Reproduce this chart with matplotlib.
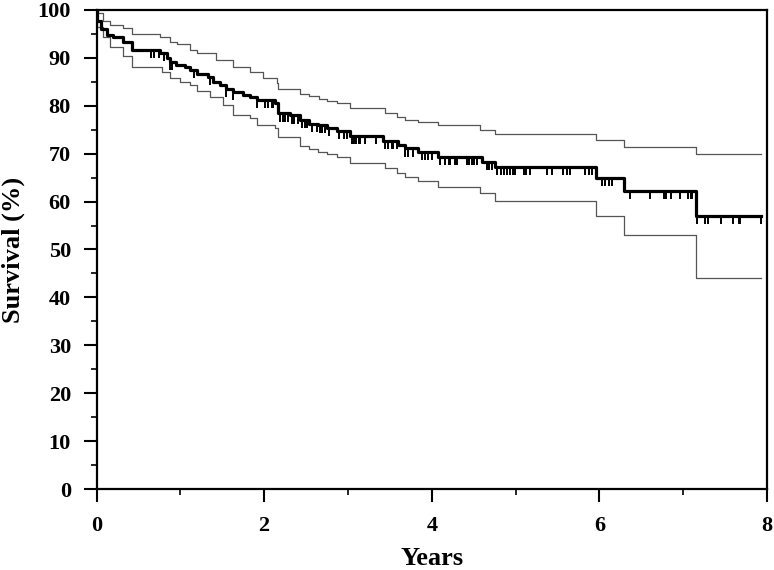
import numpy as np
import matplotlib
matplotlib.use('Agg')
import matplotlib.pyplot as plt
from matplotlib.ticker import MultipleLocator

# Kaplan-Meier estimate (time in years, survival % after each step)
km_t = [0.0, 0.01, 0.05, 0.12, 0.20, 0.32, 0.42, 0.76, 0.84, 0.88, 0.95, 1.05,
        1.12, 1.20, 1.33, 1.39, 1.47, 1.55, 1.63, 1.75, 1.83, 1.91, 2.13, 2.17,
        2.31, 2.43, 2.53, 2.64, 2.75, 2.87, 3.02, 3.42, 3.60, 3.68, 3.84, 4.08,
        4.60, 4.76, 5.96, 6.29, 7.15, 7.93]
km_s = [100.0, 97.6, 96.0, 94.8, 94.3, 93.4, 91.6, 91.0, 90.0, 89.2, 88.6, 88.0,
        87.4, 86.6, 86.0, 85.0, 84.3, 83.6, 82.9, 82.3, 81.9, 81.2, 80.5, 78.4,
        78.0, 77.0, 76.3, 76.0, 75.3, 74.8, 73.7, 72.6, 71.8, 71.1, 70.4, 69.4,
        68.3, 67.2, 64.9, 62.2, 57.0, 57.0]

# upper 95% confidence limit
up_t = [0.0, 0.02, 0.08, 0.16, 0.32, 0.42, 0.76, 0.88, 0.96, 1.12, 1.20, 1.43,
        1.63, 1.83, 1.99, 2.15, 2.17, 2.43, 2.53, 2.65, 2.75, 2.87, 3.02, 3.44,
        3.58, 3.68, 3.84, 4.08, 4.58, 4.76, 5.96, 6.29, 7.15, 7.93]
up_s = [100.0, 99.3, 97.6, 96.9, 96.2, 94.9, 94.4, 93.4, 92.9, 91.6, 91.0, 89.6,
        88.2, 87.1, 85.7, 84.7, 83.5, 82.4, 82.0, 81.4, 80.9, 80.5, 79.5, 78.4,
        77.7, 77.0, 76.6, 76.0, 74.9, 74.1, 72.8, 71.3, 69.9, 69.9]

# lower 95% confidence limit
lo_t = [0.0, 0.01, 0.08, 0.16, 0.32, 0.42, 0.78, 0.88, 1.00, 1.12, 1.20, 1.35,
        1.51, 1.63, 1.83, 1.91, 2.13, 2.17, 2.43, 2.53, 2.64, 2.75, 2.87, 3.02,
        3.44, 3.58, 3.68, 3.84, 4.08, 4.58, 4.76, 5.96, 6.29, 7.15, 7.93]
lo_s = [100.0, 96.5, 94.4, 92.3, 90.3, 88.2, 87.1, 85.7, 85.0, 84.3, 83.1, 81.9,
        80.2, 78.1, 77.4, 76.0, 75.3, 73.5, 71.6, 70.9, 70.4, 69.9, 69.4, 68.1,
        67.0, 65.9, 65.2, 64.2, 63.1, 61.7, 60.1, 56.9, 53.0, 44.0, 44.0]

# censored observations (years)
censored = [0.65, 0.68, 0.74, 0.81, 0.88, 0.90, 1.16, 1.35, 1.55, 1.63, 1.91,
            2.01, 2.05, 2.09, 2.11, 2.19, 2.22, 2.25, 2.29, 2.33, 2.36, 2.40,
            2.45, 2.49, 2.51, 2.57, 2.63, 2.67, 2.69, 2.73, 2.77, 2.89, 2.95,
            2.99, 3.05, 3.07, 3.09, 3.13, 3.14, 3.20, 3.34, 3.44, 3.48, 3.52,
            3.54, 3.58, 3.68, 3.72, 3.78, 3.88, 3.92, 3.96, 4.00, 4.10, 4.16,
            4.20, 4.22, 4.28, 4.30, 4.42, 4.44, 4.48, 4.50, 4.54, 4.66, 4.68,
            4.72, 4.78, 4.82, 4.86, 4.90, 4.93, 4.97, 4.99, 5.10, 5.13, 5.17,
            5.37, 5.43, 5.56, 5.61, 5.65, 5.83, 5.87, 5.91, 6.03, 6.07, 6.11,
            6.15, 6.36, 6.60, 6.77, 6.80, 6.86, 6.96, 7.06, 7.09, 7.11, 7.17,
            7.26, 7.30, 7.45, 7.59, 7.66, 7.68, 7.93]

plt.rcParams['font.family'] = ['Liberation Serif', 'DejaVu Serif']
plt.rcParams['font.weight'] = 'bold'

fig = plt.figure(figsize=(7.74, 5.70), dpi=100)
ax = fig.add_axes([0.1247, 0.1421, 0.8663, 0.8404])

ax.step(up_t, up_s, where='post', color='#555555', lw=0.9)
ax.step(lo_t, lo_s, where='post', color='#555555', lw=0.9)
ax.step(km_t, km_s, where='post', color='black', lw=2.3)

# censor ticks hang down from the curve
idx = np.searchsorted(km_t, censored, side='right') - 1
cens_s = np.array(km_s)[idx]
ax.vlines(censored, cens_s - 1.7, cens_s, color='black', lw=1.4)

ax.set_xlim(0, 8)
ax.set_ylim(0, 100)
ax.xaxis.set_major_locator(MultipleLocator(2))
ax.xaxis.set_minor_locator(MultipleLocator(1))
ax.yaxis.set_major_locator(MultipleLocator(10))
ax.yaxis.set_minor_locator(MultipleLocator(5))
ax.tick_params(which='major', direction='out', length=9.4, width=1.5,
               labelsize=16)
ax.tick_params(axis='x', which='major', pad=10)
ax.tick_params(axis='y', which='major', pad=9)
ax.tick_params(which='minor', direction='out', length=4.5, width=1.2)
for sp in ax.spines.values():
    sp.set_linewidth(1.6)

ax.set_xlabel('Years', fontsize=19, fontweight='bold', labelpad=8)
ax.set_ylabel('Survival (%)', fontsize=19, fontweight='bold', labelpad=9)

fig.savefig('out.png', dpi=100)
